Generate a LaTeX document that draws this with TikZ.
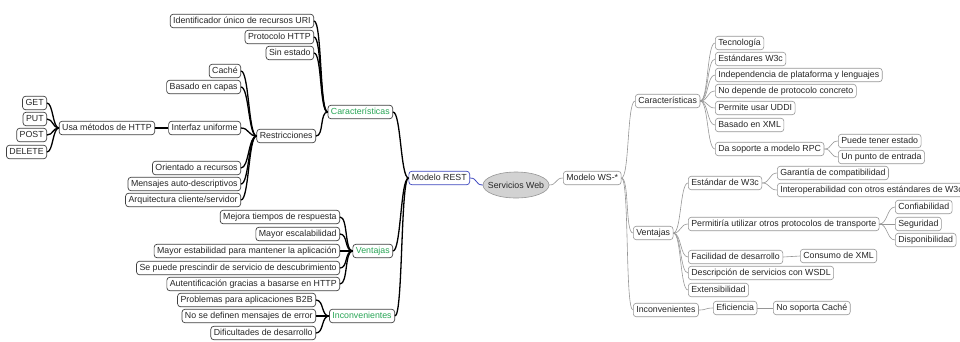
\documentclass[tikz,border=0pt]{standalone}
\usepackage{fontspec}
\setmainfont{Liberation Sans}
\usetikzlibrary{shapes.geometric}
\definecolor{topicgreen}{RGB}{40,165,85}
\definecolor{restblue}{RGB}{60,70,190}
\definecolor{rgray}{RGB}{150,150,150}
\definecolor{centerfill}{RGB}{210,210,210}
\tikzset{
  every node/.style={font=\fontsize{8.8}{10}\selectfont, text=black!85},
  basebox/.style={rounded corners=3pt, fill=white, inner xsep=3pt, inner ysep=2pt,
                  minimum height=13.5pt, text height=7pt, text depth=2pt},
  lbox/.style={basebox, draw=black!75, line width=0.7pt, anchor=east},
  rbox/.style={basebox, draw=rgray, line width=0.6pt, anchor=west},
  greenbox/.style={lbox, text=topicgreen},
  restbox/.style={lbox, draw=restblue},
  lline/.style={line width=1.3pt, black},
  rline/.style={line width=0.6pt, rgray},
}
% parent on the right, child on the left
\newcommand\leftlink[3][6]{\draw[lline] (#2.west) .. controls +(-#1,0) and +(#1,0) .. (#3.east);}
% parent on the left, child on the right
\newcommand\rightlink[3][6]{\draw[rline] (#2.east) .. controls +(#1,0) and +(-#1,0) .. (#3.west);}
\begin{document}
\begin{tikzpicture}[x=1pt,y=-1pt]
\useasboundingbox (0,0) rectangle (960,341);

% central topic: a fixed-size ellipse behind its label node
\node[minimum width=66pt, minimum height=26pt, inner sep=0pt] (web) at (516,185) {};
\draw[draw=rgray, fill=centerfill, line width=0.6pt] (web.center) ellipse (33pt and 13pt);
\node at (web.center) {Servicios Web};

% ---------- REST branch ----------
\node[restbox] (rest) at (470,178) {Modelo REST};
\node[greenbox] (car) at (393,112) {Características};
\node[greenbox] (ven) at (393,251) {Ventajas};
\node[greenbox] (inc) at (395,316) {Inconvenientes};

\node[lbox] (uri)  at (314,21) {Identificador único de recursos URI};
\node[lbox] (http) at (314,37) {Protocolo HTTP};
\node[lbox] (sinest) at (314,53) {Sin estado};
\node[lbox] (res)  at (316,136) {Restricciones};

\node[lbox] (cache) at (241,71) {Caché};
\node[lbox] (capas) at (241,87) {Basado en capas};
\node[lbox] (intf)  at (241,128) {Interfaz uniforme};
\node[lbox] (orient) at (241,168) {Orientado a recursos};
\node[lbox] (autod) at (241,184) {Mensajes auto-descriptivos};
\node[lbox] (arq)   at (241,200) {Arquitectura cliente/servidor};

\node[lbox] (usa) at (155,128) {Usa métodos de HTTP};
\node[lbox] (get)  at (47,103) {GET};
\node[lbox] (put)  at (47,119) {PUT};
\node[lbox] (post) at (47,135) {POST};
\node[lbox] (del)  at (47,152) {DELETE};

\node[lbox] (mejora) at (340,217) {Mejora tiempos de respuesta};
\node[lbox] (escal)  at (340,234) {Mayor escalabilidad};
\node[lbox] (estab)  at (340,251) {Mayor estabilidad para mantener la aplicación};
\node[lbox] (presc)  at (340,268) {Se puede prescindir de servicio de descubrimiento};
\node[lbox] (auten)  at (340,284) {Autentificación gracias a basarse en HTTP};

\node[lbox] (b2b)   at (316,300) {Problemas para aplicaciones B2B};
\node[lbox] (noerr) at (316,316) {No se definen mensajes de error};
\node[lbox] (dific) at (316,333) {Dificultades de desarrollo};

\draw[line width=0.8pt, restblue] (web.west) .. controls +(-8,0) and +(8,0) .. (rest.east);
\leftlink[8]{rest}{car}
\leftlink[8]{rest}{ven}
\leftlink[8]{rest}{inc}
\leftlink[8]{car}{uri}
\leftlink[8]{car}{http}
\leftlink[8]{car}{sinest}
\leftlink[8]{car}{res}
\leftlink[8]{res}{cache}
\leftlink[8]{res}{capas}
\leftlink[8]{res}{intf}
\leftlink[8]{res}{orient}
\leftlink[8]{res}{autod}
\leftlink[8]{res}{arq}
\leftlink[6]{intf}{usa}
\leftlink[6]{usa}{get}
\leftlink[6]{usa}{put}
\leftlink[6]{usa}{post}
\leftlink[6]{usa}{del}
\leftlink[8]{ven}{mejora}
\leftlink[8]{ven}{escal}
\leftlink[8]{ven}{estab}
\leftlink[8]{ven}{presc}
\leftlink[8]{ven}{auten}
\leftlink[8]{inc}{b2b}
\leftlink[8]{inc}{noerr}
\leftlink[8]{inc}{dific}

% ---------- WS-* branch ----------
\node[rbox] (ws) at (563,178) {Modelo WS-*};
\node[rbox] (rcar) at (635,101) {Características};
\node[rbox] (rven) at (633,233) {Ventajas};
\node[rbox] (rinc) at (633,310) {Inconvenientes};

\node[rbox] (tec)   at (715,43)  {Tecnología};
\node[rbox] (stdw)  at (715,59)  {Estándares W3c};
\node[rbox] (indep) at (715,75)  {Independencia de plataforma y lenguajes};
\node[rbox] (nodep) at (715,91)  {No depende de protocolo concreto};
\node[rbox] (uddi)  at (715,108) {Permite usar UDDI};
\node[rbox] (xml)   at (715,125) {Basado en XML};
\node[rbox] (rpc)   at (715,149) {Da soporte a modelo RPC};
\node[rbox] (estado) at (838,141) {Puede tener estado};
\node[rbox] (punto)  at (838,157) {Un punto de entrada};

\node[rbox] (w3c)   at (688,183) {Estándar de W3c};
\node[rbox] (compat) at (777,173) {Garantía de compatibilidad};
\node[rbox] (interop) at (777,190) {Interoperabilidad con otros estándares de W3c};
\node[rbox] (proto) at (688,224) {Permitiría utilizar otros protocolos de transporte};
\node[rbox] (conf)  at (895,207) {Confiabilidad};
\node[rbox] (seg)   at (895,224) {Seguridad};
\node[rbox] (disp)  at (895,240) {Disponibilidad};
\node[rbox] (facil) at (688,257) {Facilidad de desarrollo};
\node[rbox] (cxml)  at (800,256) {Consumo de XML};
\node[rbox] (wsdl)  at (688,273) {Descripción de servicios con WSDL};
\node[rbox] (ext)   at (688,290) {Extensibilidad};
\node[rbox] (efic)  at (713,308) {Eficiencia};
\node[rbox] (nocache) at (773,308) {No soporta Caché};

\rightlink[8]{web}{ws}
\rightlink[8]{ws}{rcar}
\rightlink[8]{ws}{rven}
\rightlink[8]{ws}{rinc}
\rightlink[8]{rcar}{tec}
\rightlink[8]{rcar}{stdw}
\rightlink[8]{rcar}{indep}
\rightlink[8]{rcar}{nodep}
\rightlink[8]{rcar}{uddi}
\rightlink[8]{rcar}{xml}
\rightlink[8]{rcar}{rpc}
\rightlink[8]{rpc}{estado}
\rightlink[8]{rpc}{punto}
\rightlink[8]{rven}{w3c}
\rightlink[8]{rven}{proto}
\rightlink[8]{rven}{facil}
\rightlink[8]{rven}{wsdl}
\rightlink[8]{rven}{ext}
\rightlink[8]{w3c}{compat}
\rightlink[8]{w3c}{interop}
\rightlink[8]{proto}{conf}
\rightlink[8]{proto}{seg}
\rightlink[8]{proto}{disp}
\rightlink[8]{facil}{cxml}
\rightlink[8]{rinc}{efic}
\rightlink[8]{efic}{nocache}
\end{tikzpicture}
\end{document}
